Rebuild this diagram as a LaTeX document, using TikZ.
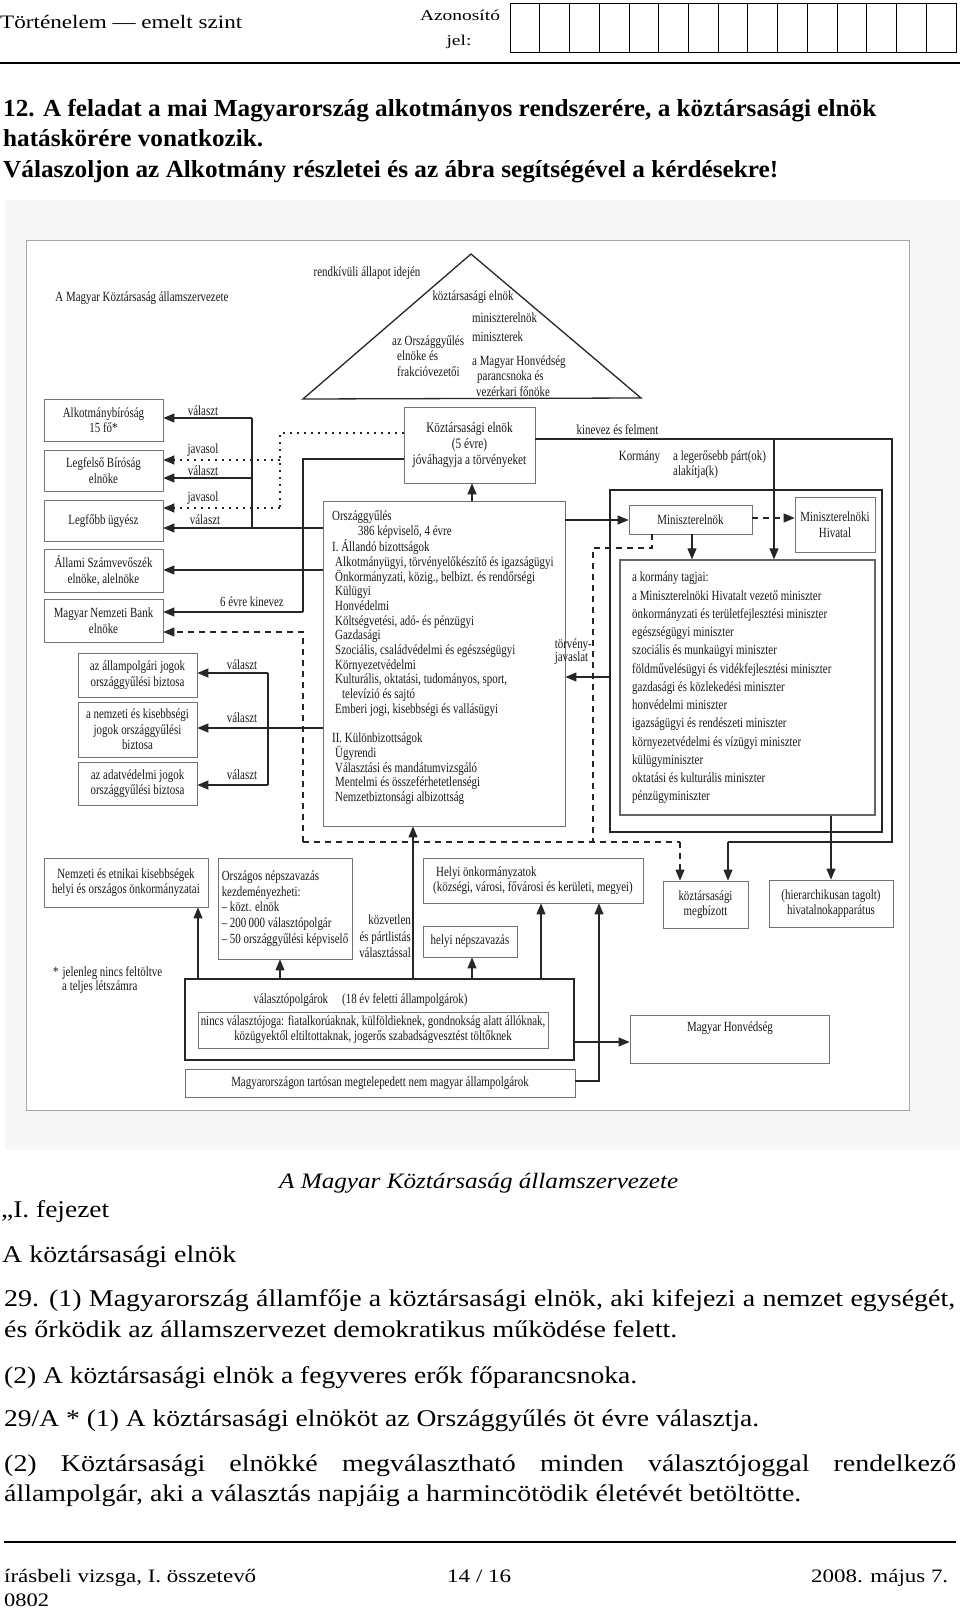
\documentclass[tikz,border=0pt]{standalone}
\usepackage{fontspec}
\usepackage{graphicx}
\setmainfont{Liberation Serif}
\newfontfamily\dgf[FakeStretch=0.78]{Liberation Serif}
\newfontfamily\bdf[FakeStretch=1.165]{Liberation Serif}
\usetikzlibrary{arrows.meta}
\newcommand\FitW[2]{\resizebox{#1pt}{\height}{#2}}
\begin{document}
\begin{tikzpicture}[x=1pt,y=-1pt,
 dgt/.style={font=\dgf\fontsize{14}{15.5}\selectfont, text=black!90, inner sep=0pt},
 bx/.style={draw=black!55, line width=0.8pt, fill=white, inner sep=0pt, align=center, dgt},
 ln/.style={draw=black!85, line width=1.1pt},
 ar/.style={ln, -{Triangle[length=11pt,width=9pt]}},
 dsh/.style={ln, dash pattern=on 6pt off 5pt},
 dshar/.style={dsh, -{Triangle[length=11pt,width=9pt]}},
 dt/.style={ln, line width=1.4pt, dash pattern=on 2pt off 5pt},
 dtar/.style={dt, -{Triangle[length=11pt,width=9pt]}},
 hd/.style={anchor=base west, inner sep=0pt, font=\fontsize{19}{19}\selectfont},
 bd/.style={anchor=base west, inner sep=0pt, font=\bdf\fontsize{24}{24}\selectfont},
]
\useasboundingbox (0,0) rectangle (960,1609);
\fill[white] (0,0) rectangle (960,1609);

% ---------- header ----------
\node[hd] (h1) at (0,28.3) {\FitW{242}{Történelem — emelt szint}};
\node[anchor=base, inner sep=0pt, font=\fontsize{15}{15}\selectfont] (h2) at (460,20) {\FitW{80}{Azonosító}};
\node[anchor=base, inner sep=0pt, font=\fontsize{15}{15}\selectfont] (h3) at (459,45) {\FitW{25}{jel:}};
\node[draw=black, line width=1pt, minimum width=446pt, minimum height=49pt, inner sep=0pt, anchor=north west] (idb) at (510,3) {};
\foreach \i in {1,...,14} \draw[line width=0.8pt] (510+\i*29.733,3) -- (510+\i*29.733,52);
\draw[line width=2.6pt] (0,63) -- (960,63);

\node[anchor=base west, inner sep=0pt, font=\bfseries\fontsize{24.5}{24.5}\selectfont] (q1) at (3,116.7) {\FitW{873}{12. A feladat a mai Magyarország alkotmányos rendszerére, a köztársasági elnök}};
\node[anchor=base west, inner sep=0pt, font=\bfseries\fontsize{24.5}{24.5}\selectfont] (q2) at (3,146.7) {\FitW{260}{hatáskörére vonatkozik.}};
\node[anchor=base west, inner sep=0pt, font=\bfseries\fontsize{24.5}{24.5}\selectfont] (q3) at (3,177.5) {\FitW{775}{Válaszoljon az Alkotmány részletei és az ábra segítségével a kérdésekre!}};

% ---------- diagram background ----------
\fill[black!3] (5,200) rectangle (960,1150);
\node[draw=black!35, line width=0.8pt, fill=white, minimum width=883pt, minimum height=870pt, inner sep=0pt] (frame) at (467.5,675) {};

\draw[line width=1.3pt, black!85] (471,254) -- (303,399) -- (641,398) -- cycle;

% ---------- boxes ----------
\node[bx, minimum width=119pt, minimum height=42pt] (ab) at (103.5,420) {Alkotmánybíróság\\15 fő*};
\node[bx, minimum width=119pt, minimum height=41pt] (lb) at (103.5,470.5) {Legfelső Bíróság\\elnöke};
\node[bx, minimum width=119pt, minimum height=41pt] (lu) at (103.5,521) {Legfőbb ügyész};
\node[bx, minimum width=119pt, minimum height=43pt] (asz) at (103.5,570.5) {Állami Számvevőszék\\elnöke, alelnöke};
\node[bx, minimum width=119pt, minimum height=43pt] (mnb) at (103.5,620.5) {Magyar Nemzeti Bank\\elnöke};
\node[bx, minimum width=119pt, minimum height=44pt] (ob1) at (137.5,675) {az állampolgári jogok\\országgyűlési biztosa};
\node[bx, minimum width=119pt, minimum height=55pt] (ob2) at (137.5,729.5) {a nemzeti és kisebbségi\\jogok országgyűlési\\biztosa};
\node[bx, minimum width=119pt, minimum height=43pt] (ob3) at (137.5,783.5) {az adatvédelmi jogok\\országgyűlési biztosa};

\node[bx, minimum width=131pt, minimum height=76pt, font=\dgf\fontsize{14.5}{16}\selectfont] (ke) at (469.5,445) {Köztársasági elnök\\(5 évre)\\jóváhagyja a törvényeket};
\node[bx, minimum width=242pt, minimum height=325pt] (ogy) at (444,663.5) {};

\node[draw=black!85, line width=1.6pt, minimum width=272pt, minimum height=342pt, inner sep=0pt] (korm) at (746,661) {};
\node[bx, minimum width=123pt, minimum height=29pt] (me) at (690.5,519.5) {Miniszterelnök};
\node[bx, minimum width=80pt, minimum height=55pt] (mh) at (835,524.5) {Miniszterelnöki\\Hivatal};
\node[draw=black!60, line width=1.3pt, fill=white, minimum width=255pt, minimum height=255pt, inner sep=0pt] (tag) at (747.5,687.5) {};

\node[bx, minimum width=164pt, minimum height=49pt, font=\dgf\fontsize{14}{15}\selectfont] (nek) at (126,882.5) {Nemzeti és etnikai kisebbségek\\helyi és országos önkormányzatai};
\node[bx, minimum width=134pt, minimum height=101pt, align=left, font=\dgf\fontsize{14}{15.7}\selectfont] (onp) at (285,908.5) {Országos népszavazás\\kezdeményezheti:\\– közt. elnök\\– 200\,000 választópolgár\\– 50 országgyűlési képviselő};
\node[bx, minimum width=220pt, minimum height=45pt, align=left, font=\dgf\fontsize{14}{15}\selectfont] (ho) at (533,880.5) {\hspace*{3pt}Helyi önkormányzatok\\(községi, városi, fővárosi és kerületi, megyei)};
\node[bx, minimum width=94pt, minimum height=31pt] (hn) at (470,941.5) {helyi népszavazás};
\node[bx, minimum width=85pt, minimum height=47pt, font=\dgf\fontsize{14}{15}\selectfont] (km) at (705.5,904.5) {köztársasági\\megbízott};
\node[bx, minimum width=124pt, minimum height=47pt, font=\dgf\fontsize{14}{14.5}\selectfont] (hiv) at (831,903.5) {(hierarchikusan tagolt)\\hivatalnokapparátus};
\node[draw=black!85, line width=1.6pt, fill=white, minimum width=389pt, minimum height=81pt, inner sep=0pt] (vp) at (379.5,1019.5) {};
\node[bx, minimum width=350pt, minimum height=36pt, font=\dgf\fontsize{14}{15}\selectfont] (nv) at (373,1030) {nincs választójoga: fiatalkorúaknak, külföldieknek, gondnokság alatt állóknak,\\közügyektől eltiltottaknak, jogerős szabadságvesztést töltőknek};
\node[bx, minimum width=390pt, minimum height=28pt] (mt) at (380,1083) {Magyarországon tartósan megtelepedett nem magyar állampolgárok};
\node[bx, minimum width=199pt, minimum height=48pt] (mhv) at (729.5,1039) {};

% ---------- box texts ----------
\node[dgt, align=left, anchor=north west, font=\dgf\fontsize{14}{14.7}\selectfont] (ogyt) at (332,511) {Országgyűlés\\
\hspace*{26pt}386 képviselő, 4 évre\\
I. Állandó bizottságok\\
\hspace*{3pt}Alkotmányügyi, törvényelőkészítő és igazságügyi\\
\hspace*{3pt}Önkormányzati, közig., belbizt. és rendőrségi\\
\hspace*{3pt}Külügyi\\
\hspace*{3pt}Honvédelmi\\
\hspace*{3pt}Költségvetési, adó- és pénzügyi\\
\hspace*{3pt}Gazdasági\\
\hspace*{3pt}Szociális, családvédelmi és egészségügyi\\
\hspace*{3pt}Környezetvédelmi\\
\hspace*{3pt}Kulturális, oktatási, tudományos, sport,\\
\hspace*{10pt}televízió és sajtó\\
\hspace*{3pt}Emberi jogi, kisebbségi és vallásügyi\\[14.7pt]
II. Különbizottságok\\
\hspace*{3pt}Ügyrendi\\
\hspace*{3pt}Választási és mandátumvizsgáló\\
\hspace*{3pt}Mentelmi és összeférhetetlenségi\\
\hspace*{3pt}Nemzetbiztonsági albizottság};

\node[dgt, align=left, anchor=north west, font=\dgf\fontsize{14}{18.25}\selectfont] (tagt) at (632,572) {a kormány tagjai:\\
a Miniszterelnöki Hivatalt vezető miniszter\\
önkormányzati és területfejlesztési miniszter\\
egészségügyi miniszter\\
szociális és munkaügyi miniszter\\
földművelésügyi és vidékfejlesztési miniszter\\
gazdasági és közlekedési miniszter\\
honvédelmi miniszter\\
igazságügyi és rendészeti miniszter\\
környezetvédelmi és vízügyi miniszter\\
külügyminiszter\\
oktatási és kulturális miniszter\\
pénzügyminiszter};

\node[dgt] (vpt) at (360.5,1000) {választópolgárok\hspace{14pt}(18 év feletti állampolgárok)};
\node[dgt] (mhvt) at (730,1028) {Magyar Honvédség};

% ---------- labels ----------
\node[dgt] (rk) at (367,273) {rendkívüli állapot idején};
\node[dgt] (dtitle) at (142,298) {A Magyar Köztársaság államszervezete};
\node[dgt] (t1) at (473,297) {köztársasági elnök};
\node[dgt, anchor=west] (t2) at (472,318) {miniszterelnök};
\node[dgt, anchor=west] (t3) at (472,337) {miniszterek};
\node[dgt, align=left, anchor=west] (t4) at (392,356) {az Országgyűlés\\\hspace*{5pt}elnöke és\\\hspace*{5pt}frakcióvezetői};
\node[dgt, align=left, anchor=west] (t5) at (472,376) {a Magyar Honvédség\\\hspace*{5pt}parancsnoka és\\\hspace*{4pt}vezérkari főnöke};

\node[dgt] (l1) at (203,411) {választ};
\node[dgt] (l2) at (203,450) {javasol};
\node[dgt] (l3) at (203,471) {választ};
\node[dgt] (l4) at (203,498) {javasol};
\node[dgt] (l5) at (205,520) {választ};
\node[dgt] (l6) at (252,602) {6 évre kinevez};
\node[dgt] (l7) at (242,665) {választ};
\node[dgt] (l8) at (242,718) {választ};
\node[dgt] (l9) at (242,775) {választ};

\node[dgt] (kf) at (617.5,430) {kinevez és felment};
\node[dgt] (kor) at (639.5,457) {Kormány};
\node[dgt, align=left, anchor=west] (lp) at (673,464.5) {a legerősebb párt(ok)\\alakítja(k)};
\node[dgt, align=left, anchor=east, font=\dgf\fontsize{14}{13.5}\selectfont] (tj) at (592,651.5) {törvény-\\javaslat};
\node[dgt, align=right, anchor=east, font=\dgf\fontsize{14}{16.5}\selectfont] (kv) at (411,936.5) {közvetlen\\és pártlistás\\választással};
\node[dgt, align=left, anchor=west, font=\dgf\fontsize{14}{14.5}\selectfont] (nt) at (53,980) {*\hspace{4pt}jelenleg nincs feltöltve\\\hspace*{9pt}a teljes létszámra};

% ---------- connectors ----------
\draw[ln] (ogy.west |- 0,528) -- (252,528) -- (252,418);
\draw[ar] (252,418) -- (ab.east |- 0,418);
\draw[ar] (252,478) -- (lb.east |- 0,478);
\draw[ar] (252,528) -- (lu.east |- 0,528);
\draw[ar] (ogy.west |- 0,570) -- (asz.east |- 0,570);
\draw[ln] (ke.west |- 0,459) -- (303,459) -- (303,612);
\draw[ar] (303,612) -- (mnb.east |- 0,612);
\draw[dt] (ke.west |- 0,433) -- (280,433) -- (280,508);
\draw[dtar] (280,460) -- (lb.east |- 0,460);
\draw[dtar] (280,508) -- (lu.east |- 0,508);
\draw[ln] (ogy.west |- 0,728) -- (268,728);
\draw[ln] (268,673) -- (268,785);
\draw[ar] (268,673) -- (ob1.east |- 0,673);
\draw[ar] (268,728) -- (ob2.east |- 0,728);
\draw[ar] (268,785) -- (ob3.east |- 0,785);

\draw[ar] (472,0 |- ogy.north) -- (472,0 |- ke.south);
\draw[ar] (ogy.east |- 0,520) -- (me.west |- 0,520);
\draw[ln] (ke.east |- 0,439) -- (892,439) -- (892,842) -- (728,842);
\draw[ar] (728,842) -- (728,0 |- km.north);
\draw[ar] (774,439) -- (774,0 |- tag.north);
\draw[ar] (831,0 |- tag.south) -- (831,0 |- hiv.north);
\draw[dshar] (me.east |- 0,518) -- (mh.west |- 0,518);
\draw[ar] (692,0 |- me.south) -- (692,0 |- tag.north);
\draw[ar] (korm.west |- 0,677) -- (ogy.east |- 0,677);
\draw[dsh] (652,0 |- me.south) -- (652,548) -- (593,548) -- (593,842);
\draw[dsh] (303,842) -- (680,842);
\draw[dshar] (680,842) -- (680,0 |- km.north);
\draw[dshar] (303,842) -- (303,632) -- (mnb.east |- 0,632);

\draw[ar] (198,0 |- vp.north) -- (198,0 |- nek.south);
\draw[ar] (280,0 |- vp.north) -- (280,0 |- onp.south);
\draw[ar] (413,0 |- vp.north) -- (413,0 |- ogy.south);
\draw[ar] (472,0 |- vp.north) -- (472,0 |- hn.south);
\draw[ar] (541,0 |- vp.north) -- (541,0 |- ho.south);
\draw[ar] (mt.east |- 0,1081) -- (599,1081) -- (599,0 |- ho.south);
\draw[ar] (vp.east |- 0,1042) -- (mhv.west |- 0,1042);

% ---------- text below ----------
\node[anchor=base west, inner sep=0pt, font=\bdf\itshape\fontsize{22}{22}\selectfont] (cap) at (279,1188) {\FitW{399}{A Magyar Köztársaság államszervezete}};
\node[bd] (f1) at (1,1217) {\FitW{108}{„I. fejezet}};
\node[bd] (f2) at (2,1262.7) {\FitW{234}{A köztársasági elnök}};
\node[bd] (p1) at (4,1306) {\makebox[951pt][s]{29. (1) Magyarország államfője a köztársasági elnök, aki kifejezi a nemzet egységét,}};
\node[bd] (p2) at (4,1337) {\FitW{673}{és őrködik az államszervezet demokratikus működése felett.}};
\node[bd] (p3) at (4,1383) {\FitW{633}{(2) A köztársasági elnök a fegyveres erők főparancsnoka.}};
\node[bd] (p4) at (4,1426) {\FitW{755}{29/A * (1) A köztársasági elnököt az Országgyűlés öt évre választja.}};
\node[bd] (p5) at (4,1471) {\makebox[952pt][s]{(2) Köztársasági elnökké megválasztható minden választójoggal rendelkező}};
\node[bd] (p6) at (4,1501) {\FitW{797}{állampolgár, aki a választás napjáig a harmincötödik életévét betöltötte.}};
\draw[line width=2pt] (4,1541.7) -- (956,1541.7);
\node[hd] (g1) at (4,1582) {\FitW{252}{írásbeli vizsga, I. összetevő}};
\node[hd] (g2) at (447,1582) {\FitW{64}{14 / 16}};
\node[hd] (g3) at (811,1582) {\FitW{137}{2008. május 7.}};
\node[hd] (g4) at (4,1606) {\FitW{45}{0802}};
\end{tikzpicture}
\end{document}
